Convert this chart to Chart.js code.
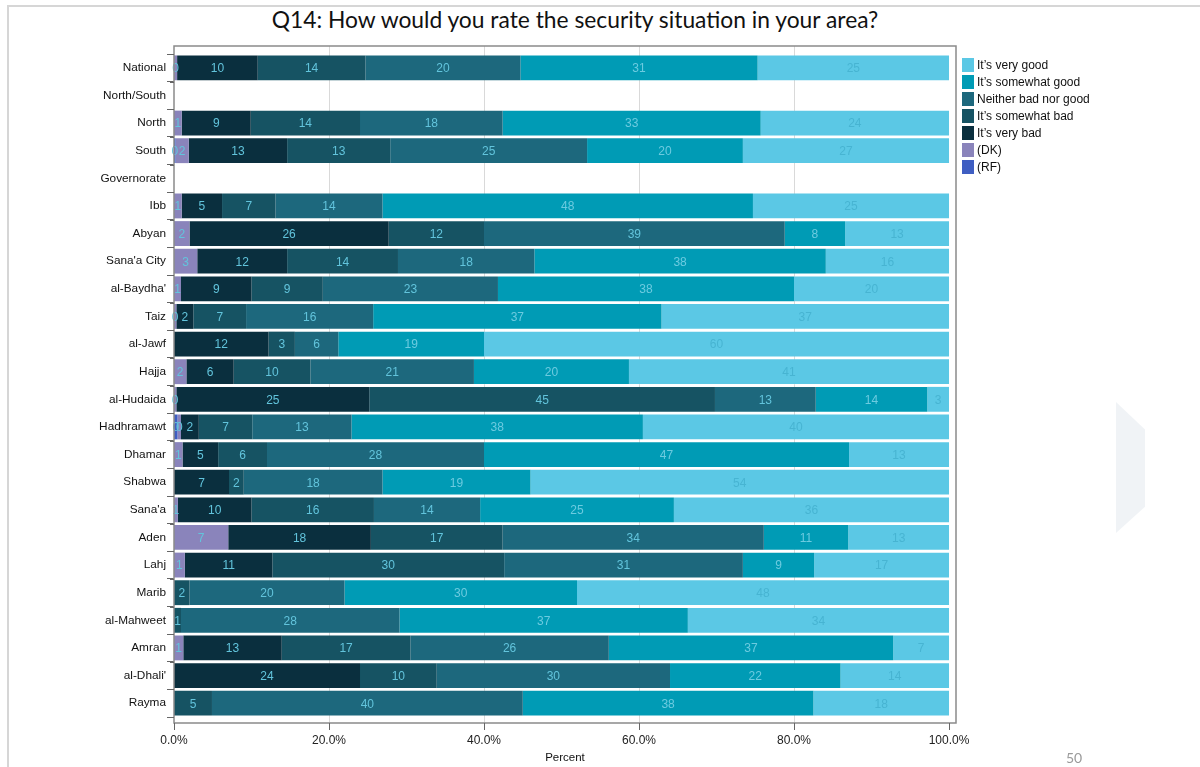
<!DOCTYPE html>
<html>
<head>
<meta charset="utf-8">
<script src="https://cdn.jsdelivr.net/npm/chart.js@4.4.1/dist/chart.umd.min.js"></script>
<style>
  body { margin: 0; background: #fff; }
  #slide { position: relative; width: 1200px; height: 767px; overflow: hidden; background: #fff; }
  #edge { position: absolute; left: 7px; top: 5px; right: -4px; bottom: -4px; border-left: 2px solid #d6d6d6; border-top: 2px solid #d6d6d6; }
  #title { position: absolute; left: 0; width: 1150px; top: 5px; text-align: center; font-family: Lato, "Open Sans", sans-serif; font-size: 22.8px; color: #111; }
  #legend { position: absolute; left: 962px; top: 58px; font-family: "Liberation Sans", Arial, sans-serif; font-size: 12px; color: #111; }
  #legend div { height: 17px; line-height: 15px; white-space: nowrap; }
  #legend span { display: inline-block; width: 12px; height: 14px; vertical-align: -3px; margin-right: 3px; }
  #chevron { position: absolute; left: 1116px; top: 402px; width: 29px; height: 131px; background: #f0f3f6; clip-path: polygon(0 0, 100% 21%, 100% 80%, 0 100%); }
  #page { position: absolute; left: 1066px; top: 749px; font-family: Lato, sans-serif; font-size: 14px; color: #9a9a9a; }
</style>
</head>
<body>
<div id="slide">
  <div id="edge"></div>
  <div id="title">Q14: How would you rate the security situation in your area?</div>
  <canvas id="securityChart" width="1200" height="767" style="position:absolute;left:0;top:0"></canvas>
  <div id="legend"></div>
  <div id="chevron"></div>
  <div id="page">50</div>
</div>
<script>
const categories = [
  'National', 'North/South', 'North', 'South', 'Governorate', 'Ibb', 'Abyan',
  "Sana'a City", "al-Baydha'", 'Taiz', 'al-Jawf', 'Hajja', 'al-Hudaida',
  'Hadhramawt', 'Dhamar', 'Shabwa', "Sana'a", 'Aden', 'Lahj', 'Marib',
  'al-Mahweet', 'Amran', "al-Dhali'", 'Rayma'
];

// percent of respondents, left to right in each bar
const refused = [null, null, null, 0.2, null, null, null, null, null, null, null, null, null, 0.45, null, null, null, null, null, null, null, null, null, null];
const dontKnow = [0.4, null, 1.0, 1.7, null, 1.0, 2.0, 3.0, 0.9, 0.3, null, 1.6, 0.3, 0.45, 1.1, null, 0.5, 7.0, 1.4, null, null, 1.2, null, null];
const veryBad = [10.4, null, 8.9, 12.7, null, 5.2, 25.7, 11.6, 9.1, 2.2, 12.2, 6.1, 24.9, 2.3, 4.6, 7.1, 9.5, 18.4, 11.3, null, null, 12.7, 24.0, null];
const somewhatBad = [13.9, null, 14.1, 13.3, null, 6.9, 12.3, 14.3, 9.2, 6.8, 3.4, 9.9, 44.6, 6.9, 6.3, 1.9, 15.8, 17.0, 29.9, 2.0, 0.9, 16.6, 9.9, 4.9];
const neither = [20.0, null, 18.4, 25.4, null, 13.8, 38.8, 17.6, 22.6, 16.4, 5.6, 21.1, 13.0, 12.8, 28.0, 17.9, 13.7, 33.7, 30.8, 20.0, 28.2, 25.6, 30.1, 40.1];
const somewhatGood = [30.6, null, 33.3, 20.1, null, 47.8, 7.8, 37.6, 38.2, 37.2, 18.8, 20.0, 14.4, 37.6, 47.1, 19.1, 25.0, 10.9, 9.2, 30.0, 37.2, 36.7, 22.0, 37.5];
const veryGood = [24.7, null, 24.3, 26.6, null, 25.3, 13.4, 15.9, 20.0, 37.1, 60.0, 41.3, 2.8, 39.5, 12.9, 54.0, 35.5, 13.0, 17.4, 48.0, 33.7, 7.2, 14.0, 17.5];

const xTicks = [0, 20, 40, 60, 80, 100];

const SERIES = [
  { label: '(RF)', data: refused, color: '#3f5ec2', text: '#62c4dc' },
  { label: '(DK)', data: dontKnow, color: '#8a84bb', text: '#62c4dc' },
  { label: 'It\u2019s very bad', data: veryBad, color: '#0a2f3e', text: '#62c4dc' },
  { label: 'It\u2019s somewhat bad', data: somewhatBad, color: '#165363', text: '#62c4dc' },
  { label: 'Neither bad nor good', data: neither, color: '#1d687d', text: '#62c4dc' },
  { label: 'It\u2019s somewhat good', data: somewhatGood, color: '#009bb5', text: '#6ccbe0' },
  { label: 'It\u2019s very good', data: veryGood, color: '#5bc8e5', text: '#47b4d2' }
];

const FONT = '"Liberation Sans", Arial, sans-serif';

// frame, grid lines, extra tick marks and the numbers inside each segment
const framePlugin = {
  id: 'frame',
  beforeDatasetsDraw(chart) {
    const { ctx, chartArea, scales } = chart;
    const top = chartArea.top - 8, bottom = chartArea.bottom + 6;
    ctx.save();
    ctx.strokeStyle = '#d9d9d9';
    ctx.lineWidth = 1;
    xTicks.slice(1, -1).forEach(v => {
      const x = Math.round(scales.x.getPixelForValue(v)) + 0.5;
      ctx.beginPath();
      ctx.moveTo(x, top);
      ctx.lineTo(x, bottom);
      ctx.stroke();
    });
    ctx.restore();
  },
  afterDatasetsDraw(chart) {
    const { ctx, chartArea, scales } = chart;
    const top = chartArea.top - 8, bottom = chartArea.bottom + 6;
    ctx.save();

    // segment values
    ctx.font = '12px ' + FONT;
    ctx.textAlign = 'center';
    ctx.textBaseline = 'middle';
    chart.data.datasets.forEach((ds, i) => {
      ctx.fillStyle = SERIES[i].text;
      chart.getDatasetMeta(i).data.forEach((bar, j) => {
        const v = ds.data[j];
        if (v === null || v === undefined) return;
        ctx.fillText(String(Math.round(v)), (bar.x + bar.base) / 2, bar.y + 1);
      });
    });

    // plot frame
    ctx.strokeStyle = '#8a8a8a';
    ctx.lineWidth = 1.5;
    ctx.strokeRect(chartArea.left, top, chartArea.right - chartArea.left, bottom - top);

    // x tick marks below the frame
    ctx.strokeStyle = '#666';
    ctx.lineWidth = 1;
    xTicks.forEach(v => {
      const x = Math.round(scales.x.getPixelForValue(v)) + 0.5;
      ctx.beginPath();
      ctx.moveTo(x, bottom);
      ctx.lineTo(x, bottom + 7);
      ctx.stroke();
    });

    // short marks between categories
    const step = scales.y.getPixelForValue(1) - scales.y.getPixelForValue(0);
    for (let i = 0; i <= categories.length; i++) {
      const y = Math.round(scales.y.getPixelForValue(0) + (i - 0.5) * step) + 0.5;
      ctx.beginPath();
      ctx.moveTo(chartArea.left - 4, y);
      ctx.lineTo(chartArea.left, y);
      ctx.stroke();
    }
    ctx.restore();
  }
};

const chart = new Chart(document.getElementById('securityChart'), {
  type: 'bar',
  data: {
    labels: categories,
    datasets: SERIES.map(s => ({
      label: s.label,
      data: s.data,
      backgroundColor: s.color,
      borderWidth: 0,
      barPercentage: 0.9,
      categoryPercentage: 1.0
    }))
  },
  options: {
    indexAxis: 'y',
    responsive: false,
    animation: false,
    layout: { padding: { top: 54, right: 244, left: 0, bottom: 0 } },
    scales: {
      x: {
        stacked: true,
        min: 0,
        max: 100.9,
        afterFit: scale => { scale.height = 50; },
        afterBuildTicks: scale => {
          scale.ticks = xTicks.map(v => ({ value: v }));
        },
        grid: { display: false, drawTicks: false },
        border: { display: false },
        ticks: {
          padding: 16,
          maxRotation: 0,
          autoSkip: false,
          color: '#222',
          font: { family: FONT, size: 12 },
          callback: v => v.toFixed(1) + '%'
        },
        title: {
          display: true,
          text: 'Percent',
          color: '#111',
          font: { family: FONT, size: 11.5 },
          padding: { top: 0, bottom: 2 }
        }
      },
      y: {
        stacked: true,
        afterFit: scale => { scale.width = 174; },
        grid: { drawOnChartArea: false, drawTicks: true, tickLength: 7, color: '#666' },
        border: { display: false },
        ticks: {
          padding: 1,
          color: '#111',
          font: { family: FONT, size: 11.8 }
        }
      }
    },
    plugins: {
      legend: { display: false },
      title: { display: false },
      tooltip: { enabled: false }
    }
  },
  plugins: [framePlugin]
});

// legend, top item first
const legendBox = document.getElementById('legend');
SERIES.slice().reverse().forEach(s => {
  const row = document.createElement('div');
  const swatch = document.createElement('span');
  swatch.style.background = s.color;
  row.appendChild(swatch);
  row.appendChild(document.createTextNode(s.label));
  legendBox.appendChild(row);
});
</script>
</body>
</html>
